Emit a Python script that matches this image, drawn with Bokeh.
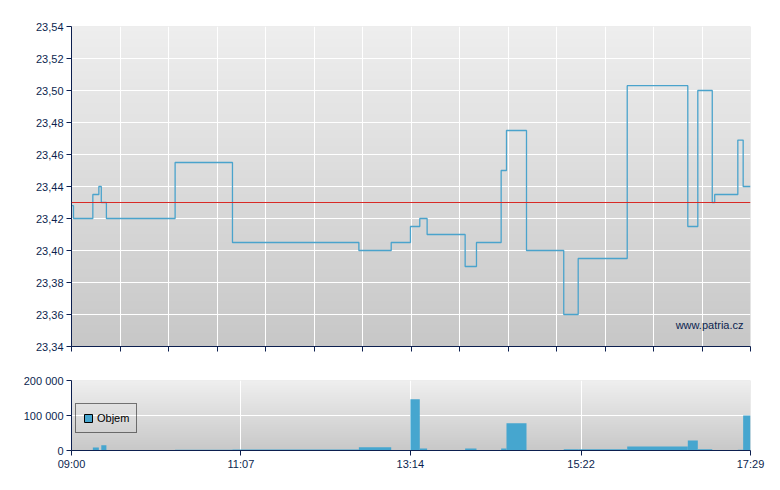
import numpy as np
from bokeh.plotting import figure
from bokeh.models import (Range1d, FixedTicker, Span, Label, Legend, LegendItem,
                          ColumnDataSource)
from bokeh.layouts import column
from bokeh.embed import file_html
from bokeh.resources import INLINE

# ---------------- data ----------------
trade_times = ["09:00:00", "09:01:30", "09:16:00", "09:20:30", "09:22:20", "09:26:10",
               "10:17:40", "11:00:40", "12:35:25", "12:59:40", "13:14:05", "13:21:05",
               "13:26:35", "13:55:05", "14:03:35", "14:22:05", "14:26:05", "14:41:05",
               "15:09:00", "15:19:50", "15:56:35", "16:42:00", "16:49:30", "17:00:20",
               "17:02:10", "17:19:30", "17:23:30"]
prices = [23.428, 23.42, 23.435, 23.44, 23.43, 23.42,
          23.455, 23.405, 23.40, 23.405, 23.415, 23.42,
          23.41, 23.39, 23.405, 23.45, 23.475, 23.40,
          23.36, 23.395, 23.503, 23.415, 23.50, 23.43,
          23.435, 23.469, 23.44]
volumes = [0, 0, 8600, 0, 15000, 0,
           2500, 3000, 9500, 0, 146500, 6000,
           0, 6000, 0, 6000, 78000, 0,
           3500, 3500, 11500, 28500, 3500, 0,
           0, 2500, 100000]
session_start = "09:00:00"
session_end = "17:29:00"
reference_price = 23.43

price_ticks = [23.34, 23.36, 23.38, 23.40, 23.42, 23.44, 23.46, 23.48, 23.50, 23.52, 23.54]
price_tick_labels = ["23,34", "23,36", "23,38", "23,40", "23,42", "23,44", "23,46",
                     "23,48", "23,50", "23,52", "23,54"]
volume_ticks = [0, 100000, 200000]
volume_tick_labels = ["0", "100 000", "200 000"]
time_tick_labels = ["09:00", "11:07", "13:14", "15:22", "17:29"]
watermark = "www.patria.cz"
legend_label = "Objem"

# ---------------- helpers ----------------
def to_min(s):
    parts = [int(v) for v in s.split(":")]
    while len(parts) < 3:
        parts.append(0)
    h0, m0, s0 = [int(v) for v in session_start.split(":")]
    return (parts[0] * 60 + parts[1] + parts[2] / 60) - (h0 * 60 + m0 + s0 / 60)

x_start = to_min(session_start)
x_end = to_min(session_end)
t_min = [to_min(t) for t in trade_times]

NAVY = "#0c1f4f"
LINE = "#4aa3cc"
BAR = "#46a6cf"
RED = "#d82a26"
FONT = "Liberation Sans"


def gradient(top_grey, bottom_grey, n=120):
    img = np.empty((n, 1), dtype=np.uint32)
    view = img.view(dtype=np.uint8).reshape((n, 1, 4))
    g = np.linspace(bottom_grey, top_grey, n).round().astype(np.uint8)
    view[:, 0, 0] = g
    view[:, 0, 1] = g
    view[:, 0, 2] = g
    view[:, 0, 3] = 255
    return img


def style_axis(ax):
    ax.axis_line_color = NAVY
    ax.major_tick_line_color = NAVY
    ax.minor_tick_line_color = None
    ax.major_tick_out = 5
    ax.major_tick_in = 0
    ax.major_label_text_font = FONT
    ax.major_label_text_font_size = "11px"
    ax.major_label_text_color = NAVY
    ax.major_label_standoff = 3


# ---------------- price chart ----------------
p1 = figure(frame_width=679, frame_height=320,
            x_range=Range1d(x_start, x_end), y_range=Range1d(price_ticks[0], price_ticks[-1]),
            output_backend="svg", toolbar_location=None,
            min_border_left=71, min_border_right=20, min_border_top=26, min_border_bottom=19,
            outline_line_color=None, border_fill_color="white", background_fill_color="#dcdcdc")

bg1 = p1.image_rgba(image=[gradient(238, 199)], x=x_start, y=price_ticks[0],
                    dw=x_end - x_start, dh=price_ticks[-1] - price_ticks[0])
bg1.level = "image"

top_ticks = list(np.linspace(x_start, x_end, 15))
p1.xaxis.ticker = FixedTicker(ticks=top_ticks)
p1.xaxis.major_label_overrides = {t: "" for t in top_ticks}
p1.yaxis.ticker = FixedTicker(ticks=price_ticks)
p1.yaxis.major_label_overrides = dict(zip(price_ticks, price_tick_labels))
style_axis(p1.xaxis[0])
style_axis(p1.yaxis[0])
p1.xgrid.ticker = FixedTicker(ticks=top_ticks)
p1.ygrid.ticker = FixedTicker(ticks=price_ticks)
for g in (p1.xgrid[0], p1.ygrid[0]):
    g.grid_line_color = "white"
    g.grid_line_width = 1
    g.grid_line_alpha = 1

p1.add_layout(Span(location=reference_price, dimension="width",
                   line_color=RED, line_width=1))

p1.step(x=t_min + [x_end], y=prices + [prices[-1]], mode="after",
        line_color=LINE, line_width=1.3)

p1.add_layout(Label(x=x_end, y=price_ticks[0], x_offset=-7, y_offset=16,
                    text=watermark, text_align="right", text_baseline="bottom",
                    text_font=FONT, text_font_size="11px", text_color=NAVY))

# ---------------- volume chart ----------------
p2 = figure(frame_width=679, frame_height=70,
            x_range=Range1d(x_start, x_end), y_range=Range1d(volume_ticks[0], volume_ticks[-1]),
            output_backend="svg", toolbar_location=None,
            min_border_left=71, min_border_right=20, min_border_top=15, min_border_bottom=30,
            outline_line_color=None, border_fill_color="white", background_fill_color="#dcdcdc")

bg2 = p2.image_rgba(image=[gradient(239, 200)], x=x_start, y=volume_ticks[0],
                    dw=x_end - x_start, dh=volume_ticks[-1] - volume_ticks[0])
bg2.level = "image"

time_ticks = [to_min(lbl) for lbl in time_tick_labels]
p2.xaxis.ticker = FixedTicker(ticks=time_ticks)
p2.xaxis.major_label_overrides = dict(zip(time_ticks, time_tick_labels))
p2.yaxis.ticker = FixedTicker(ticks=volume_ticks)
p2.yaxis.major_label_overrides = dict(zip(volume_ticks, volume_tick_labels))
style_axis(p2.xaxis[0])
style_axis(p2.yaxis[0])
p2.xaxis[0].major_label_standoff = 2
p2.xgrid.ticker = FixedTicker(ticks=time_ticks)
p2.ygrid.ticker = FixedTicker(ticks=volume_ticks)
for g in (p2.xgrid[0], p2.ygrid[0]):
    g.grid_line_color = "white"
    g.grid_line_width = 1
    g.grid_line_alpha = 1

src = ColumnDataSource(dict(left=t_min, right=t_min[1:] + [x_end],
                            top=volumes, bottom=[0] * len(volumes)))
p2.quad(left="left", right="right", top="top", bottom="bottom", source=src,
        fill_color=BAR, line_color=None)

# legend swatch: first (zero-volume) segment drawn with a black outline, hidden under the axis
proxy_src = ColumnDataSource(dict(left=t_min[:1], right=t_min[1:2],
                                  top=volumes[:1], bottom=[0]))
legend_proxy = p2.quad(left="left", right="right", top="top", bottom="bottom",
                       source=proxy_src, fill_color=BAR, line_color="black", line_width=1)
legend = Legend(items=[LegendItem(label=legend_label, renderers=[legend_proxy])],
                location=(4, 17), border_line_color="black", border_line_width=1,
                background_fill_alpha=0, padding=7, spacing=0, margin=0,
                label_text_font=FONT, label_text_font_size="11px", label_text_color="black",
                label_standoff=4, glyph_width=10, glyph_height=10, label_height=14)
p2.add_layout(legend)

layout = column(p1, p2, spacing=0)
open("out.html", "w").write(file_html(layout, INLINE))
